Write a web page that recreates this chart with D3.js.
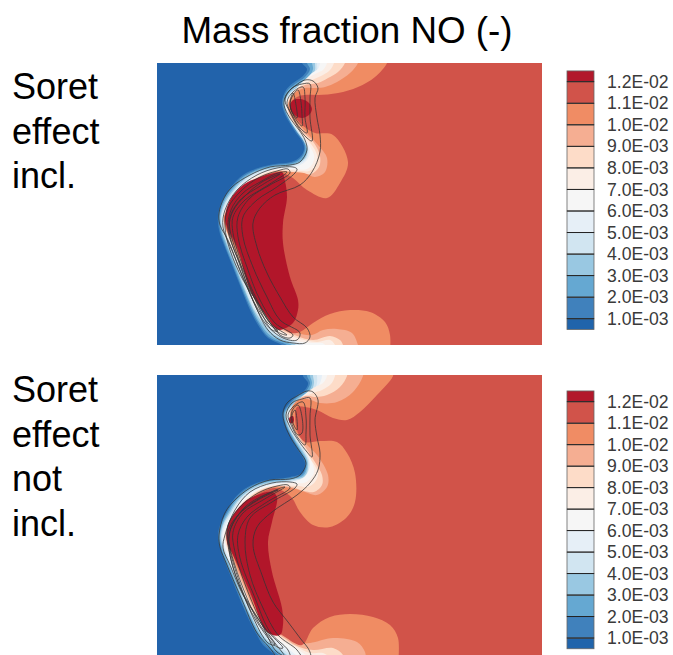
<!DOCTYPE html>
<html>
<head>
<meta charset="utf-8">
<script src="https://cdn.jsdelivr.net/npm/d3@7"></script>
<style>
body { margin: 0; background: #fff; }
svg { display: block; }
text { font-family: "Liberation Sans", Arial, sans-serif; }
</style>
</head>
<body>
<div id="chart"></div>
<script>
//legend
var levels = [0.001, 0.002, 0.003, 0.004, 0.005, 0.006, 0.007, 0.008, 0.009, 0.010, 0.011, 0.012];
var levelLabels = ["1.0E-03", "2.0E-03", "3.0E-03", "4.0E-03", "5.0E-03", "6.0E-03", "7.0E-03", "8.0E-03", "9.0E-03", "1.0E-02", "1.1E-02", "1.2E-02"];
var bandEdges = [0.0005, 0.001, 0.002, 0.003, 0.004, 0.005, 0.006, 0.007, 0.008, 0.009, 0.010, 0.011, 0.012, 0.0125];
var bandColors = ["#2064ab", "#4081bc", "#65a8d2", "#99c8e2", "#d1e5f1", "#e6eff7", "#f6f6f6", "#fbeee6", "#fddcc8", "#f5ae92", "#f08c64", "#d1534a", "#b2182b"];

var titleText = "Mass fraction NO (-)";
var topCaption = ["Soret", "effect", "incl."];
var bottomCaption = ["Soret", "effect", "not", "incl."];

//field units are pixels of the original plot
//top plot, contour at each level, from the upper edge to the lower edge
var top1 = [[146,-8],[145,0],[150,6],[146,13],[136,20],[129,27],[125,39],[127,49],[132,59],[139,70],[146,80],[147,87],[143,94],[134,99],[118,101],[101,105],[86,112],[74,124],[65,138],[61,153],[62,167],[67,182],[75,202],[84,225],[93,247],[101,262],[111,275],[125,282],[135,289]];
var top2 = [[150,-8],[150,0],[153,6],[148,14],[138,21],[130,28],[126,39],[128,48],[133,58],[140,69],[147,79],[148,87],[144,95],[135,100],[118,102],[101.5,106],[87,113],[75,125],[66,138],[62,153],[63,166],[68,182],[76,202],[85,225],[94,246],[102,261],[112,274],[130,282],[139,289]];
var top3 = [[155,-8],[155,0],[156,6],[151,15],[140,22],[131,30],[127,39],[128.5,48],[133,58],[140,69],[147,79],[150,87],[146,96],[136,101],[118,103],[102,107],[88,114],[76,126],[67,139],[63,153],[64,166],[69,181],[77,201],[86,224],[95,245],[103,260],[114,273],[135,282],[143,289]];
var top4 = [[158,-8],[158,0],[158,7],[153,16],[142,23],[132,31],[127.5,39],[129,47],[133,57],[140,68],[147,78],[150.5,87],[148,95.5],[138,101.5],[119,104.5],[103,108],[89,115],[77,127],[68,140],[64,153],[65,166],[70,181],[78,201],[87,224],[96,245],[105,259],[116,271],[139,282],[147,289]];
var top5 = [[160,-8],[160,0],[160,7],[155,17],[144,25],[133,33],[128,39],[129.5,47],[134,57],[141,68],[148,78],[151.5,87],[149,96],[139,102],[119,105.5],[104,109],[90,116],[78,128],[69,141],[65,153],[66,166],[71,180],[79,200],[88,223],[97,244],[106,258],[118,270],[143,282],[150,289]];
var top6 = [[163,-8],[163,0],[161,6],[155,10],[146,19],[135,30],[129,39],[130.5,48],[135,58],[143,69],[150,79],[153,88],[150,97],[141,103],[120,106],[105,109.5],[91,117],[79,129],[70,142],[65.8,153],[67,166],[72,180],[80,200],[89,223],[98,243],[107,257],[121,269],[147,282],[156,289]];
var top7 = [[171,-8],[170,0],[166,7],[160,10],[148,17],[138,27],[129.5,40],[131,50],[136,60],[145,72],[152,82],[157,92],[156,100],[150,106],[138,106.3],[120,106.5],[106,110],[92,118],[80,130],[71,143],[66.3,153],[67.8,166],[73,180],[81,199],[90,222],[99,243],[108,256],[118,268],[135,277],[155,280],[165,280],[168,282],[170,289]];
var top8 = [[178,-8],[177,0],[173,7],[166,12],[155,17],[142,24],[132,36],[130,42],[131.5,50],[137,60],[146,72],[154,81],[160,92],[159,102],[152,108],[142,108],[121,107],[107,110.7],[93,119],[81,131],[72,144],[66.7,153],[68.3,166],[74,180],[82,199],[91,221],[100,242],[109,255],[120,266],[140,275],[160,279],[173,277],[178,282],[180,289]];
var top9 = [[189,-8],[188,0],[181,9],[171,15],[161,20],[148,22],[138,29],[131,41],[132,50],[138,60],[148,71],[157,80],[163,93],[162,104],[154,111],[143,110],[122,107.7],[108,111.3],[94,120],[82,132],[73,145],[67,153],[68.7,166],[75,180],[83,199],[92,221],[101,241],[110,254],[122,265],[140,273],[156,277],[173,273],[183,277],[186,282],[188,289]];
var top10 = [[202,-8],[201,0],[193,10],[180,19],[168,24],[160,25],[148,25],[139,29],[133,36],[131.5,42],[133,50],[139,58],[150,70],[161,82],[170,95],[168,109],[158,114],[147,110],[133,109],[122,108.3],[109,112],[95,121],[83,133],[74,146],[67.3,153],[69.1,166],[76,180],[84,198],[93,220],[102,240],[111,253],[123,264],[140,270],[155,272],[166,267],[180,266],[195,270],[201,282],[203,289]];
var top11 = [[231,-8],[230,0],[218,14],[201,24],[181,30],[161,32],[148,32],[140,34],[134,41],[136,51],[143,60],[149,65],[158,70],[176,72],[191,99],[183,120],[170,135],[150,127],[136,115],[126,110],[122,109],[110,111.8],[96,120],[84,132],[75,146],[67.6,153],[69.5,166],[77,180],[85,198],[94,220],[103,240],[112,252],[122,262],[134,270],[143,269],[156,260],[173,251],[193,247],[213,249],[228,259],[233,272],[233,289]];
var topContours = [top1, top2, top3, top4, top5, top6, top7, top8, top9, top10, top11];

//islands above the top level
var topPeaks = [
    [[133,42],[136,37],[143,36],[151,39],[155,46],[152,52],[145,55],[139,53],[134,48]],
    [[120,109.5],[125,109],[128,118],[130,134],[126,160],[126,180],[133,214],[141,237],[141,247],[136,260],[123,267],[118,265],[110,254],[93,227],[80,184],[70,164],[68,154],[73,137],[86,122],[103,114]]
];

//black isolines of the top plot
var topLines = [
    [[156,18],[161,25],[158,35],[160,55],[163,72],[163,89],[155,109],[143,122],[118,132],[103,145],[96,160],[100,184],[110,210],[123,234],[136,254],[150,265],[153,274],[148,280],[136,280],[123,277],[111,267],[98,242],[83,207],[71,177],[63,162],[62,150],[67,135],[75,124],[93,112],[113,104],[133,102],[143,99],[150,87],[148,77],[142,67],[133,55],[127,42],[129,32],[138,23],[148,17]],
    [[153,21],[153,35],[153,55],[155,78],[150,75],[141,64],[133,49],[128,37],[135,25],[145,21]],
    [[146,24],[148,35],[148,55],[150,70],[143,65],[135,52],[130,39],[136,29]],
    [[141,27],[144,39],[145,52],[145,63],[138,55],[133,42],[136,32]],
    [[136,30],[139,42],[140,55],[135,49],[133,40]],
    [[140,106],[138,110],[120,124],[100,137],[86,154],[86,174],[96,204],[110,234],[123,257],[143,270],[140,277],[126,275],[108,260],[90,224],[76,190],[66,164],[68,147],[80,127],[100,112],[120,105],[136,104]],
    [[133,110],[113,122],[93,135],[81,154],[81,174],[91,207],[103,237],[118,260],[136,272],[133,275],[123,272],[103,243],[86,217],[73,187],[68,164],[71,145],[83,129],[101,115],[120,108],[131,106]],
    [[130,109],[108,124],[88,137],[76,154],[76,170],[86,204],[100,237],[113,260],[130,272],[121,269],[93,227],[80,194],[71,167],[74,147],[86,130],[103,119],[121,110]],
    [[123,111],[105,122],[83,137],[73,154],[73,167],[83,200],[96,237],[111,260],[121,268],[115,267],[103,247],[86,207],[76,184],[72,165],[76,148],[88,133],[105,119]]
];

//bottom plot
var bot1 = [[146,-8],[146,1],[151,8],[148,15],[139,21],[133,27],[126,38],[127,47],[130,55],[135,65],[141,75],[148,88],[145,98],[133,102],[110,105],[97,109],[86,115],[77,124],[70,135],[64,147],[61,160],[63,173],[68,187],[76,207],[84,227],[93,247],[100,260],[106,270],[118,280],[128,290]];
var bot2 = [[150,-8],[150,1],[153,8],[149,16],[140,22],[134,28],[127,38],[128,47],[131,55],[136,64],[142,74],[149,87],[146,99],[133,103],[110,106],[97,110],[87,116],[78,125],[71,136],[65,147],[62,160],[64,173],[69,187],[77,207],[85,227],[94,246],[101,259],[108,269],[122,280],[132,290]];
var bot3 = [[153,-8],[153,1],[155,8],[151,17],[141,23],[135,29],[128,38],[129,47],[132,55],[137,64],[143,74],[150,87],[147,100],[134,104],[111,107],[98,111],[88,117],[79,126],[72,137],[66,148],[63,160],[65,173],[70,186],[78,206],[86,226],[95,245],[102,258],[110,268],[126,280],[136,290]];
var bot4 = [[156,-8],[156,1],[157,8],[153,18],[143,24],[136,30],[129,38],[130,47],[133,55],[138,64],[144,73],[151,87],[148,101],[135,105],[112,108],[99,112],[89,118],[80,127],[73,138],[67,148],[64,160],[66,173],[71,186],[79,206],[87,226],[96,245],[103,257],[112,267],[130,280],[140,290]];
var bot5 = [[160,-8],[160,1],[160,8],[155,19],[145,25],[137,31],[130,38],[131,46],[134,54],[139,63],[145,72],[152,86],[150,102],[137,106],[113,109],[100,113],[90,119],[81,128],[74,139],[68,149],[65,160],[67,172],[72,186],[80,205],[88,225],[97,244],[104,256],[114,266],[134,280],[144,290]];
var bot6 = [[165,-8],[165,1],[163,8],[157,20],[147,26],[138,32],[131,38],[132,46],[135,54],[140,62],[147,73],[153,88],[151,97],[146,103],[134,107],[114,110],[101,114],[91,120],[82,129],[75,140],[69,150],[66,160],[68,172],[73,185],[81,205],[89,225],[98,244],[106,255],[117,264],[139,280],[149,290]];
var bot7 = [[171,-8],[170,1],[166,8],[158,12],[148,19],[139,28],[132,38],[133,46],[136,54],[141,62],[148,72],[155,87],[157,97],[153,104],[147,108],[135,108],[115,110.5],[102,114.5],[92,121],[83,130],[76,141],[70,151],[67,160],[69,172],[74,185],[82,205],[90,225],[99,243],[108,254],[120,263],[135,272],[150,281],[155,290]];
var bot8 = [[179,-8],[178,1],[174,9],[165,15],[156,18],[146,23],[136,31],[132.5,40],[134,48],[137,56],[143,66],[153,83],[161,98],[158,107],[150,112],[142,111],[116,111],[103,115],[93,121.5],[84,131],[77,142],[71,152],[68,161],[70,172],[75,185],[83,205],[91,224],[100,242],[109,253],[122,262],[138,271],[153,278],[166,278],[173,283],[175,290]];
var bot9 = [[191,-8],[190,1],[183,12],[170,20],[158,22],[148,21],[138,28],[133,40],[135,48],[138,56],[145,67],[156,84],[165,100],[165,110],[157,117],[147,116],[134,112],[117,111.5],[104,115.5],[94,122],[85,132],[78,143],[72,153],[69,161],[71,172],[76,185],[84,205],[92,224],[101,241],[110,252],[124,261],[140,271],[156,275],[176,273],[186,280],[188,290]];
var bot10 = [[207,-8],[206,1],[196,17],[180,27],[163,28],[150,24],[140,26],[134,34],[133.5,42],[136,50],[140,58],[148,68],[160,80],[171,100],[170,112],[160,120],[148,117],[134,113],[118,112],[105,116],[95,122.5],[86,133],[79,144],[73,154],[70,162],[72,172],[77,185],[85,204],[93,223],[102,240],[111,251],[126,260],[140,268],[153,268],[176,263],[200,267],[208,277],[209,290]];
var bot11 = [[237,-8],[236,1],[220,20],[203,37],[190,45],[176,43],[160,35],[148,32],[140,32],[138,42],[141,58],[148,67],[163,66],[180,67],[190,78],[198,98],[198,127],[190,142],[173,152],[156,150],[143,137],[135,123],[126,116],[118,113],[106,116.5],[96,123],[87,134],[80,145],[74,155],[71,163],[73,172],[78,185],[86,204],[94,222],[103,239],[112,250],[128,262],[145,270],[156,253],[173,242],[193,239],[216,242],[233,250],[241,263],[241,290]];
var botContours = [bot1, bot2, bot3, bot4, bot5, bot6, bot7, bot8, bot9, bot10, bot11];

var botPeaks = [
    [[133,42],[136,41],[137,45],[136,48],[133,48],[132,45]],
    [[115,117],[120,122],[115,147],[111,167],[115,197],[125,233],[126,250],[123,260],[110,257],[93,217],[76,180],[70,167],[71,150],[86,128],[100,120]]
];

var botLines = [
    [[156,17],[161,25],[158,45],[160,62],[163,78],[161,95],[153,108],[140,120],[115,137],[100,152],[96,170],[105,200],[116,227],[131,247],[143,263],[153,277],[153,290],[130,292],[112,272],[100,258],[85,225],[70,190],[63,172],[62,160],[67,140],[75,128],[93,113],[113,105],[133,104],[143,100],[149,88],[143,77],[135,65],[128,50],[126,38],[130,28],[140,21],[150,16]],
    [[153,23],[153,41],[153,60],[155,82],[150,77],[141,65],[133,52],[129,40],[135,28],[145,24]],
    [[146,27],[149,42],[149,58],[148,70],[141,63],[135,52],[131,40],[136,32]],
    [[141,30],[145,42],[145,58],[141,60],[136,52],[134,43],[136,34]],
    [[138,35],[140,45],[140,55],[136,48],[135,40]],
    [[140,109],[138,113],[115,127],[93,143],[88,167],[93,200],[106,233],[121,260],[140,275],[145,285],[136,290],[125,277],[110,257],[86,220],[73,190],[66,173],[68,160],[78,135],[93,117],[115,108],[133,107]],
    [[133,113],[110,127],[90,142],[81,160],[83,183],[98,223],[113,257],[131,275],[133,282],[120,277],[105,250],[83,212],[71,170],[71,150],[83,132],[101,118],[120,111],[131,110]],
    [[128,112],[106,125],[86,138],[76,157],[78,177],[91,217],[108,253],[126,273],[120,272],[100,247],[81,207],[73,180],[72,163],[75,150],[86,135],[103,123],[121,114]],
    [[121,115],[101,125],[81,140],[71,157],[73,173],[86,213],[103,250],[118,270],[111,268],[95,240],[80,200],[73,175],[72,160],[78,145],[88,132],[103,122]]
];

//Begin prep for chart
var width = 673;
var height = 655;

var svg = d3.select('#chart')
    .append('svg')
    .attr('width', width)
    .attr('height', height);

var defs = svg.append('defs');
defs.append('filter')
    .attr('id', 'soften')
    .append('feGaussianBlur')
    .attr('stdDeviation', 0.45);

var x_scale = d3.scaleLinear()
    .domain([0, 385])
    .range([157, 542]);

function drawField(id, y_range, y_max, contours, peaks, lines) {
    var y_scale = d3.scaleLinear()
        .domain([0, y_max])
        .range(y_range);

    var contourLine = d3.line()
        .x(d => x_scale(d[0]))
        .y(d => y_scale(d[1]))
        .curve(d3.curveCatmullRom);

    var loopLine = d3.line()
        .x(d => x_scale(d[0]))
        .y(d => y_scale(d[1]))
        .curve(d3.curveCatmullRomClosed);

    defs.append('clipPath')
        .attr('id', 'clip' + id)
        .append('rect')
        .attr('x', x_scale(0))
        .attr('y', y_scale(0))
        .attr('width', x_scale(385) - x_scale(0))
        .attr('height', y_scale(y_max) - y_scale(0));

    var g = svg.append('g')
        .attr('clip-path', 'url(#clip' + id + ')')
        .append('g')
        .attr('filter', 'url(#soften)');

    g.append('rect')
        .attr('x', x_scale(-5))
        .attr('y', y_scale(-5))
        .attr('width', x_scale(395) - x_scale(0))
        .attr('height', y_scale(y_max + 10) - y_scale(0))
        .attr('fill', bandColors[0]);

    //everything right of a contour is above that level
    g.selectAll('path.level')
        .data(contours)
        .enter()
        .append('path')
        .attr('class', 'level')
        .attr('fill', (d, i) => bandColors[i + 1])
        .attr('d', d => contourLine(d) + 'L' + x_scale(400) + ',' + y_scale(y_max + 10) + 'L' + x_scale(400) + ',' + y_scale(-10) + 'Z');

    g.selectAll('path.peak')
        .data(peaks)
        .enter()
        .append('path')
        .attr('class', 'peak')
        .attr('fill', bandColors[12])
        .attr('d', loopLine);

    g.selectAll('path.iso')
        .data(lines)
        .enter()
        .append('path')
        .attr('class', 'iso')
        .attr('fill', 'none')
        .attr('stroke', '#333')
        .attr('stroke-width', 0.9)
        .attr('stroke-opacity', 0.85)
        .attr('d', loopLine);
}

function drawLegend(y_top, y_bottom) {
    var y_scale = d3.scaleLinear()
        .domain([0.001, 0.012])
        .range([y_bottom, y_top]);

    var g = svg.append('g');

    g.selectAll('rect')
        .data(bandColors)
        .enter()
        .append('rect')
        .attr('x', 567)
        .attr('width', 27)
        .attr('y', (d, i) => y_scale(bandEdges[i + 1]))
        .attr('height', (d, i) => y_scale(bandEdges[i]) - y_scale(bandEdges[i + 1]))
        .attr('fill', d => d)
        .attr('stroke', '#666')
        .attr('stroke-width', 0.8);

    g.selectAll('line')
        .data(levels)
        .enter()
        .append('line')
        .attr('x1', 567)
        .attr('x2', 594)
        .attr('y1', d => y_scale(d))
        .attr('y2', d => y_scale(d))
        .attr('stroke', '#222')
        .attr('stroke-width', 1);

    var axis = d3.axisRight(y_scale)
        .tickValues(levels)
        .tickFormat((d, i) => levelLabels[i])
        .tickSize(0)
        .tickPadding(13);

    var a = g.append('g')
        .attr('transform', 'translate(594,0)')
        .call(axis);
    a.select('.domain').remove();
    a.selectAll('text')
        .attr('font-size', 17.6)
        .attr('font-family', '"Liberation Sans", Arial, sans-serif')
        .attr('fill', '#3a3a3a');
}

function drawCaption(lines, first_y) {
    svg.selectAll(null)
        .data(lines)
        .enter()
        .append('text')
        .attr('x', 12)
        .attr('y', (d, i) => first_y + i * 44.6)
        .attr('font-size', 36)
        .attr('fill', '#000')
        .text(d => d);
}

drawField('Top', [63, 345], 282, topContours, topPeaks, topLines);
drawField('Bot', [375, 655], 280, botContours, botPeaks, botLines);
drawLegend(81.7, 318.7);
drawLegend(401.7, 638);

svg.append('text')
    .attr('x', 347)
    .attr('y', 43)
    .attr('text-anchor', 'middle')
    .attr('font-size', 36.8)
    .attr('fill', '#000')
    .text(titleText);

drawCaption(topCaption, 99);
drawCaption(bottomCaption, 402);
</script>
</body>
</html>
